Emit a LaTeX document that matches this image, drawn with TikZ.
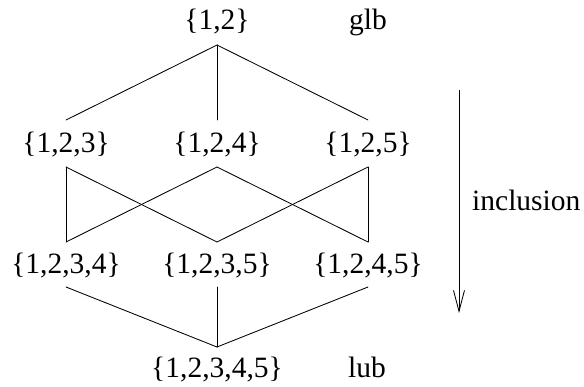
\documentclass[tikz,border=0pt]{standalone}
\usepackage{fontspec}
\setmainfont{Liberation Serif}
\usetikzlibrary{arrows.meta}
\begin{document}
\begin{tikzpicture}[x=1pt,y=-1pt,
  lbl/.style={anchor=base,inner sep=0pt,font=\fontsize{29.5}{31}\selectfont},
  edge/.style={line width=0.85pt,line cap=round,line join=miter}]
\useasboundingbox (0,0) rectangle (584,386);
% labels
\node[lbl] (n12) at (217,29) {\{1,2\}};
\node[lbl] (glb) at (368,29) {glb};
\node[lbl] (n123) at (66,152) {\{1,2,3\}};
\node[lbl] (n124) at (217,152) {\{1,2,4\}};
\node[lbl] (n125) at (368,152) {\{1,2,5\}};
\node[lbl] (n1234) at (66,273) {\{1,2,3,4\}};
\node[lbl] (n1235) at (217,273) {\{1,2,3,5\}};
\node[lbl] (n1245) at (368,273) {\{1,2,4,5\}};
\node[lbl] (n12345) at (217,377) {\{1,2,3,4,5\}};
\node[lbl] (lub) at (367,377) {lub};
\node[lbl,anchor=base west] (incl) at (472,210) {inclusion};
% connector end points
\coordinate (n12s) at (217,45);
\coordinate (n123n) at (66,120);
\coordinate (n124n) at (217,120);
\coordinate (n125n) at (368,120);
\coordinate (n123s) at (66,167);
\coordinate (n124s) at (217,167);
\coordinate (n125s) at (368,167);
\coordinate (n1234n) at (66,242);
\coordinate (n1235n) at (217,242);
\coordinate (n1245n) at (368,242);
\coordinate (n1234s) at (66,287);
\coordinate (n1235s) at (217,287);
\coordinate (n1245s) at (368,287);
\coordinate (n12345n) at (217,347);
\coordinate (arrtop) at (459,90);
\coordinate (arrbot) at (459,313);
% edges
\draw[edge] (n12s) -- (n123n);
\draw[edge] (n12s) -- (n124n);
\draw[edge] (n12s) -- (n125n);
\draw[edge] (n123s) -- (n1234n);
\draw[edge] (n123s) -- (n1235n);
\draw[edge] (n124s) -- (n1234n);
\draw[edge] (n124s) -- (n1245n);
\draw[edge] (n125s) -- (n1235n);
\draw[edge] (n125s) -- (n1245n);
\draw[edge] (n1234s) -- (n12345n);
\draw[edge] (n1235s) -- (n12345n);
\draw[edge] (n1245s) -- (n12345n);
\draw[line width=0.85pt,-{Straight Barb[length=21pt,width=11pt,line width=0.85pt]}] (arrtop) -- (arrbot);
\end{tikzpicture}
\end{document}
